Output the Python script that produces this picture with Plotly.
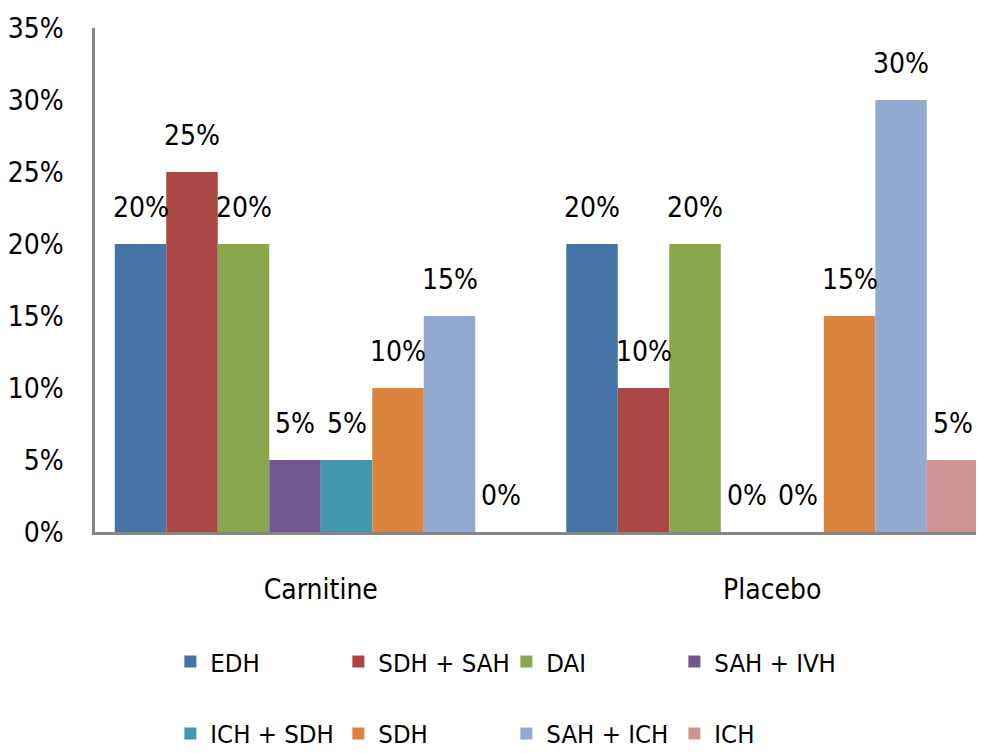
import plotly.graph_objects as go

categories = ["Carnitine", "Placebo"]
series_names = ["EDH", "SDH + SAH", "DAI", "SAH + IVH", "ICH + SDH", "SDH", "SAH + ICH", "ICH"]
series_values = {
    "EDH": [0.20, 0.20],
    "SDH + SAH": [0.25, 0.10],
    "DAI": [0.20, 0.20],
    "SAH + IVH": [0.05, 0.00],
    "ICH + SDH": [0.05, 0.00],
    "SDH": [0.10, 0.15],
    "SAH + ICH": [0.15, 0.30],
    "ICH": [0.00, 0.05],
}
colors = ["#4572A7", "#AA4643", "#89A54E", "#71588F", "#4198AF", "#DB843D", "#93A9CF", "#D19392"]
y_ticks = [0, 0.05, 0.10, 0.15, 0.20, 0.25, 0.30, 0.35]
y_tick_labels = ["0%", "5%", "10%", "15%", "20%", "25%", "30%", "35%"]

FONT = "DejaVu Sans Condensed, Liberation Sans, sans-serif"
FS = 28
LEG_FS = 25.5
BARGAP = 0.0875

fig = go.Figure()
n = len(series_names)
annotations = []
for i, name in enumerate(series_names):
    vals = series_values[name]
    fig.add_trace(go.Bar(
        x=categories, y=vals, name=name,
        marker=dict(color=colors[i], line=dict(width=0)),
        legend="legend" if i < 4 else "legend2",
    ))
    w = (1 - BARGAP) / n
    for j, v in enumerate(vals):
        annotations.append(dict(
            x=j + (i - (n - 1) / 2) * w, y=v, xref="x", yref="y",
            text=f"{v*100:.0f}%", showarrow=False, yanchor="bottom",
            yshift=18, font=dict(family=FONT, size=FS, color="black"),
        ))

legend_common = dict(orientation="h", xref="container", yref="container",
                     xanchor="left", yanchor="middle", entrywidth=123,
                     font=dict(family=FONT, size=LEG_FS, color="black"),
                     traceorder="normal", bgcolor="rgba(0,0,0,0)")

fig.update_layout(
    width=984, height=753,
    margin=dict(l=87, r=12, t=20, b=229, autoexpand=False),
    paper_bgcolor="white", plot_bgcolor="white",
    barmode="group", bargap=BARGAP, bargroupgap=0,
    font=dict(family=FONT, size=FS, color="black"),
    annotations=annotations,
    legend=dict(x=0.165, y=0.1315, **legend_common),
    legend2=dict(x=0.165, y=0.036, **legend_common),
)
fig.update_xaxes(
    range=[-0.5, 1.46], showline=True, linecolor="#868686", linewidth=2.5,
    ticks="", showgrid=False, ticklabelstandoff=31, automargin=False,
    tickfont=dict(family=FONT, size=FS, color="black"),
)
fig.update_yaxes(
    range=[0, 0.35], tickvals=y_ticks, ticktext=y_tick_labels,
    showline=True, linecolor="#868686", linewidth=2.5,
    ticks="", showgrid=False, zeroline=False, ticklabelstandoff=23, automargin=False,
    tickfont=dict(family=FONT, size=FS, color="black"),
)

fig.write_html("out.html")
